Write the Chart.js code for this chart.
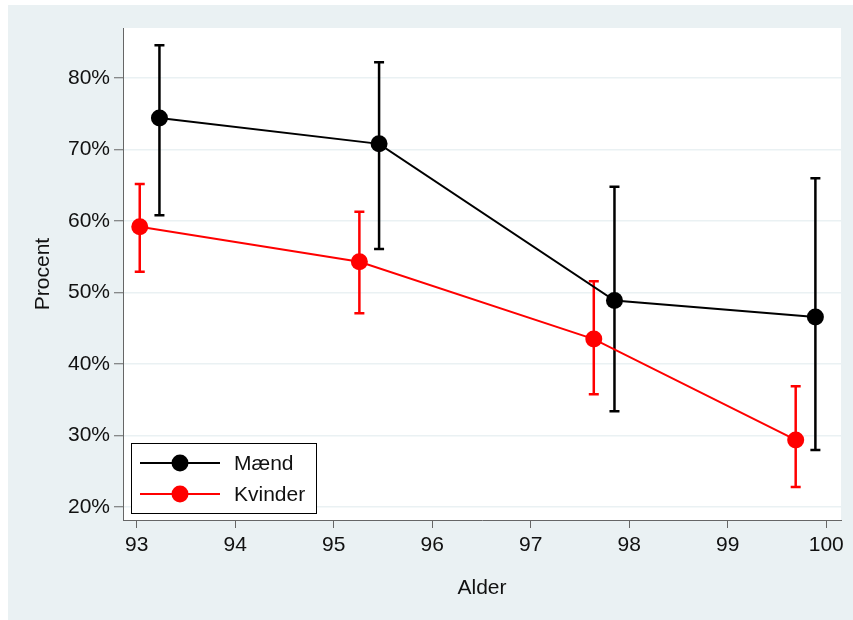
<!DOCTYPE html>
<html>
<head>
<meta charset="utf-8">
<script src="https://cdn.jsdelivr.net/npm/chart.js@4"></script>
<style>
body { margin: 0; background: #fff; }
</style>
</head>
<body>
<canvas id="chart" width="853" height="620"></canvas>
<script>
// Data (percent).
const maendAlder = [93.23, 95.46, 97.85, 99.89];
const maendPct = [74.4, 70.8, 48.9, 46.6];
const maendLow = [60.8, 56.1, 33.4, 28.0];
const maendHigh = [84.6, 82.2, 64.8, 66.0];

const kvinderAlder = [93.03, 95.26, 97.64, 99.69];
const kvinderPct = [59.2, 54.3, 43.5, 29.4];
const kvinderLow = [52.9, 47.1, 35.8, 22.8];
const kvinderHigh = [65.2, 61.3, 51.6, 36.9];

const alderTicks = [93, 94, 95, 96, 97, 98, 99, 100];
const procentTicks = [20, 30, 40, 50, 60, 70, 80];

const seriesNames = ["Mænd", "Kvinder"];
const seriesColors = ["#000000", "#ff0000"];

Chart.defaults.font.family = "'Liberation Sans', Arial, sans-serif";
Chart.defaults.font.size = 21;
Chart.defaults.color = "#111";

function toPoints(xs, ys) {
    return xs.map((x, i) => ({x: x, y: ys[i]}));
}

// background: light outer region, white plot region
const backgroundPlugin = {
    id: "background",
    beforeDraw(chart) {
        const ctx = chart.ctx;
        const a = chart.chartArea;
        ctx.save();
        ctx.fillStyle = "#eaf1f3";
        ctx.fillRect(8, 5, chart.width - 8, chart.height - 5);
        ctx.fillStyle = "#ffffff";
        ctx.fillRect(a.left, a.top, a.right - a.left, a.bottom - a.top);
        ctx.restore();
    }
};

// error bars with caps, drawn under the points
const errorBarPlugin = {
    id: "errorBars",
    beforeDatasetsDraw(chart) {
        const ctx = chart.ctx;
        const xs = chart.scales.x;
        const ys = chart.scales.y;
        ctx.save();
        chart.data.datasets.forEach(ds => {
            ctx.strokeStyle = ds.borderColor;
            ctx.lineWidth = 2.5;
            ds.data.forEach((p, i) => {
                const px = xs.getPixelForValue(p.x);
                const lo = ys.getPixelForValue(ds.errLow[i]);
                const hi = ys.getPixelForValue(ds.errHigh[i]);
                ctx.beginPath();
                ctx.moveTo(px, lo);
                ctx.lineTo(px, hi);
                ctx.moveTo(px - 5, lo);
                ctx.lineTo(px + 5, lo);
                ctx.moveTo(px - 5, hi);
                ctx.lineTo(px + 5, hi);
                ctx.stroke();
            });
        });
        ctx.restore();
    }
};

// legend box inside the plot, lower left
const legendPlugin = {
    id: "boxLegend",
    afterDraw(chart) {
        const ctx = chart.ctx;
        const left = 131, top = 443, w = 185, h = 70;
        ctx.save();
        ctx.fillStyle = "#fff";
        ctx.fillRect(left, top, w, h);
        ctx.strokeStyle = "#000";
        ctx.lineWidth = 1;
        ctx.strokeRect(left + 0.5, top + 0.5, w, h);
        seriesNames.forEach((name, i) => {
            const y = top + 20 + i * 31;
            ctx.strokeStyle = seriesColors[i];
            ctx.lineWidth = 2;
            ctx.beginPath();
            ctx.moveTo(140, y);
            ctx.lineTo(220, y);
            ctx.stroke();
            ctx.fillStyle = seriesColors[i];
            ctx.beginPath();
            ctx.arc(180, y, 8.5, 0, Math.PI * 2);
            ctx.fill();
            ctx.fillStyle = "#111";
            ctx.font = "21px 'Liberation Sans', Arial, sans-serif";
            ctx.textBaseline = "middle";
            ctx.fillText(name, 234, y + 1);
        });
        ctx.restore();
    }
};

new Chart(document.getElementById("chart"), {
    type: "line",
    data: {
        datasets: [
            {
                label: seriesNames[0],
                data: toPoints(maendAlder, maendPct),
                errLow: maendLow,
                errHigh: maendHigh,
                borderColor: seriesColors[0],
                backgroundColor: seriesColors[0],
                borderWidth: 2,
                pointRadius: 8.5,
                pointBorderWidth: 0,
                tension: 0
            },
            {
                label: seriesNames[1],
                data: toPoints(kvinderAlder, kvinderPct),
                errLow: kvinderLow,
                errHigh: kvinderHigh,
                borderColor: seriesColors[1],
                backgroundColor: seriesColors[1],
                borderWidth: 2,
                pointRadius: 8.5,
                pointBorderWidth: 0,
                tension: 0
            }
        ]
    },
    options: {
        responsive: false,
        animation: false,
        events: [],
        layout: {padding: {top: 28, right: 12, left: 0, bottom: 0}},
        plugins: {
            legend: {display: false},
            tooltip: {enabled: false}
        },
        scales: {
            x: {
                type: "linear",
                min: 92.86,
                max: 100.15,
                afterFit: s => { s.height = 100; },
                afterBuildTicks: s => { s.ticks = alderTicks.map(v => ({value: v})); },
                ticks: {padding: 5, color: "#111"},
                grid: {drawOnChartArea: false, tickLength: 8, tickColor: "#666", tickWidth: 1},
                border: {color: "#666", width: 1},
                title: {
                    display: true,
                    text: "Alder",
                    color: "#111",
                    font: {size: 21, lineHeight: 1.2},
                    padding: {top: 0, bottom: 19}
                }
            },
            y: {
                min: 18.2,
                max: 87.0,
                afterFit: s => { s.width = 123; },
                afterBuildTicks: s => { s.ticks = procentTicks.map(v => ({value: v})); },
                ticks: {padding: 4, color: "#111", callback: v => v + "%"},
                grid: {color: "#eaf1f3", lineWidth: 1.5, tickLength: 9, tickColor: "#666", tickWidth: 1},
                border: {color: "#666", width: 1},
                title: {
                    display: true,
                    text: "Procent",
                    color: "#111",
                    font: {size: 21, lineHeight: 1.2},
                    padding: {top: 31, bottom: 0}
                }
            }
        }
    },
    plugins: [backgroundPlugin, errorBarPlugin, legendPlugin]
});
</script>
</body>
</html>
